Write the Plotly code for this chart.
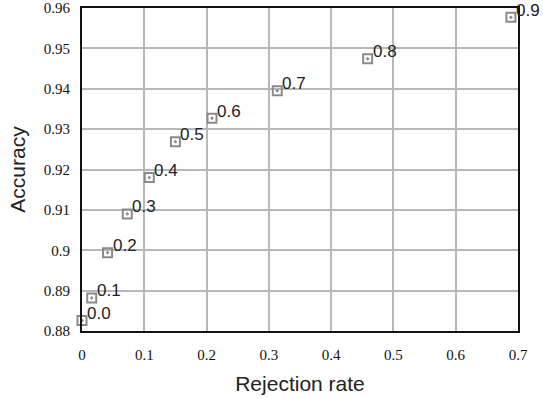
import plotly.graph_objects as go

thresholds = ["0.0", "0.1", "0.2", "0.3", "0.4", "0.5", "0.6", "0.7", "0.8", "0.9"]
rejection = [0.0, 0.0156, 0.041, 0.0727, 0.108, 0.150, 0.2087, 0.3135, 0.4586, 0.6886]
accuracy = [0.8826, 0.8882, 0.8994, 0.9090, 0.9180, 0.9269, 0.9327, 0.9395, 0.9474, 0.9577]
x_ticks = [0, 0.1, 0.2, 0.3, 0.4, 0.5, 0.6, 0.7]
x_tick_labels = ["0", "0.1", "0.2", "0.3", "0.4", "0.5", "0.6", "0.7"]
y_ticks = [0.88, 0.89, 0.90, 0.91, 0.92, 0.93, 0.94, 0.95, 0.96]
y_tick_labels = ["0.88", "0.89", "0.9", "0.91", "0.92", "0.93", "0.94", "0.95", "0.96"]

fig = go.Figure()
fig.add_trace(go.Scatter(
    x=rejection, y=accuracy, mode="markers",
    marker=dict(symbol="square-open-dot", size=9, color="#8a8a8a",
                line=dict(width=2, color="#8a8a8a")),
    cliponaxis=False, showlegend=False,
))
for xv, yv, t in zip(rejection, accuracy, thresholds):
    fig.add_annotation(x=xv, y=yv, text=t, showarrow=False,
                       xanchor="left", yanchor="middle", xshift=3, yshift=7,
                       font=dict(family="Liberation Sans, Arial", size=17, color="#222"))

tickfont = dict(family="Liberation Serif, Times New Roman", size=15, color="#111")
fig.update_layout(
    width=543, height=399,
    margin=dict(l=82, r=25, t=8, b=68),
    paper_bgcolor="white", plot_bgcolor="white",
    xaxis=dict(range=[0, 0.7], tickvals=x_ticks, ticktext=x_tick_labels,
               showgrid=True, gridcolor="#b8b8b8", gridwidth=2,
               showline=True, linecolor="#111", linewidth=2, mirror=True,
               zeroline=False, ticks="", tickfont=tickfont, ticklabelstandoff=9,
               automargin=False,
               title=dict(text="Rejection rate", standoff=14,
                          font=dict(family="Liberation Sans, Arial", size=21, color="#222"))),
    yaxis=dict(range=[0.88, 0.96], tickvals=y_ticks, ticktext=y_tick_labels,
               showgrid=True, gridcolor="#b8b8b8", gridwidth=2,
               showline=True, linecolor="#111", linewidth=2, mirror=True,
               zeroline=False, ticks="", tickfont=tickfont, ticklabelstandoff=7,
               automargin=False,
               title=dict(text="Accuracy", standoff=12,
                          font=dict(family="Liberation Sans, Arial", size=21, color="#222"))),
)
fig.write_html("out.html", config={"displayModeBar": False},
               post_script="document.body.style.margin='0';")
